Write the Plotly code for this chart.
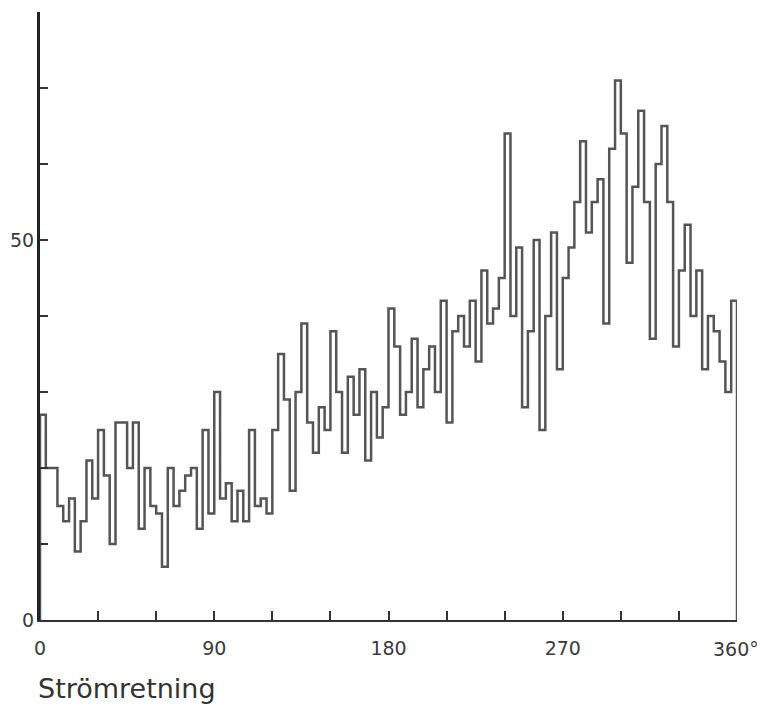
import plotly.graph_objects as go

bin_width = 3  # degrees
counts = [
    27, 20, 20, 15, 13, 16, 9, 13, 21, 16,
    25, 19, 10, 26, 26, 20, 26, 12, 20, 15,
    14, 7, 20, 15, 17, 19, 20, 12, 25, 14,
    30, 16, 18, 13, 17, 13, 25, 15, 16, 14,
    25, 35, 29, 17, 30, 39, 26, 22, 28, 25,
    38, 30, 22, 32, 27, 33, 21, 30, 24, 28,
    41, 36, 27, 30, 37, 28, 33, 36, 30, 42,
    26, 38, 40, 36, 42, 34, 46, 39, 41, 45,
    64, 40, 49, 28, 38, 50, 25, 40, 51, 33,
    45, 49, 55, 63, 51, 55, 58, 39, 62, 71,
    64, 47, 57, 67, 55, 37, 60, 65, 55, 36,
    46, 52, 40, 46, 33, 40, 38, 34, 30, 42,
]
x_tickvals = list(range(0, 361, 30))
x_ticktext = ["0", "", "", "90", "", "", "180", "", "", "270", "", "", ""]
x_end_label = "360°"
y_tickvals = list(range(0, 81, 10))
y_ticktext = ["0", "", "", "", "", "50", "", "", ""]
x_title = "Strömretning"

edges = [i * bin_width for i in range(len(counts) + 1)]
xs = [0] + edges[:-1] + [edges[-1], edges[-1]]
ys = [0] + counts + [counts[-1], 0]

fig = go.Figure()
fig.add_trace(go.Scatter(
    x=xs, y=ys, mode="lines", line=dict(shape="hv", color="#555555", width=2.5),
    hoverinfo="skip", showlegend=False, cliponaxis=False,
))

font = dict(family="DejaVu Sans", size=19, color="#3a3a3a")
fig.update_layout(
    width=769, height=709,
    margin=dict(l=32, r=40, t=4, b=97, autoexpand=False),
    paper_bgcolor="white", plot_bgcolor="white",
    font=font,
    xaxis=dict(range=[0, 360], showgrid=False, zeroline=False, showline=True,
               linecolor="#333333", linewidth=2, ticks="inside", ticklen=9,
               tickwidth=1.5, tickcolor="#333333", tickvals=x_tickvals,
               ticktext=x_ticktext, ticklabelstandoff=10, automargin=False),
    yaxis=dict(range=[0, 80], showgrid=False, zeroline=False, showline=True,
               linecolor="#222222", linewidth=3, ticks="inside", ticklen=8,
               tickwidth=1.5, tickcolor="#333333", tickvals=y_tickvals,
               ticktext=y_ticktext, ticklabelstandoff=-1, automargin=False),
    annotations=[
        dict(text=x_title, xref="paper", yref="paper", x=-0.006, y=-0.112,
             xanchor="left", yanchor="middle", showarrow=False,
             font=dict(family="DejaVu Sans", size=27, color="#333333")),
        dict(text=x_end_label, xref="x", yref="paper", x=360, y=0,
             xanchor="left", yanchor="top", xshift=-26, yshift=-16,
             showarrow=False, font=font),
    ],
)
fig.write_html("out.html")
